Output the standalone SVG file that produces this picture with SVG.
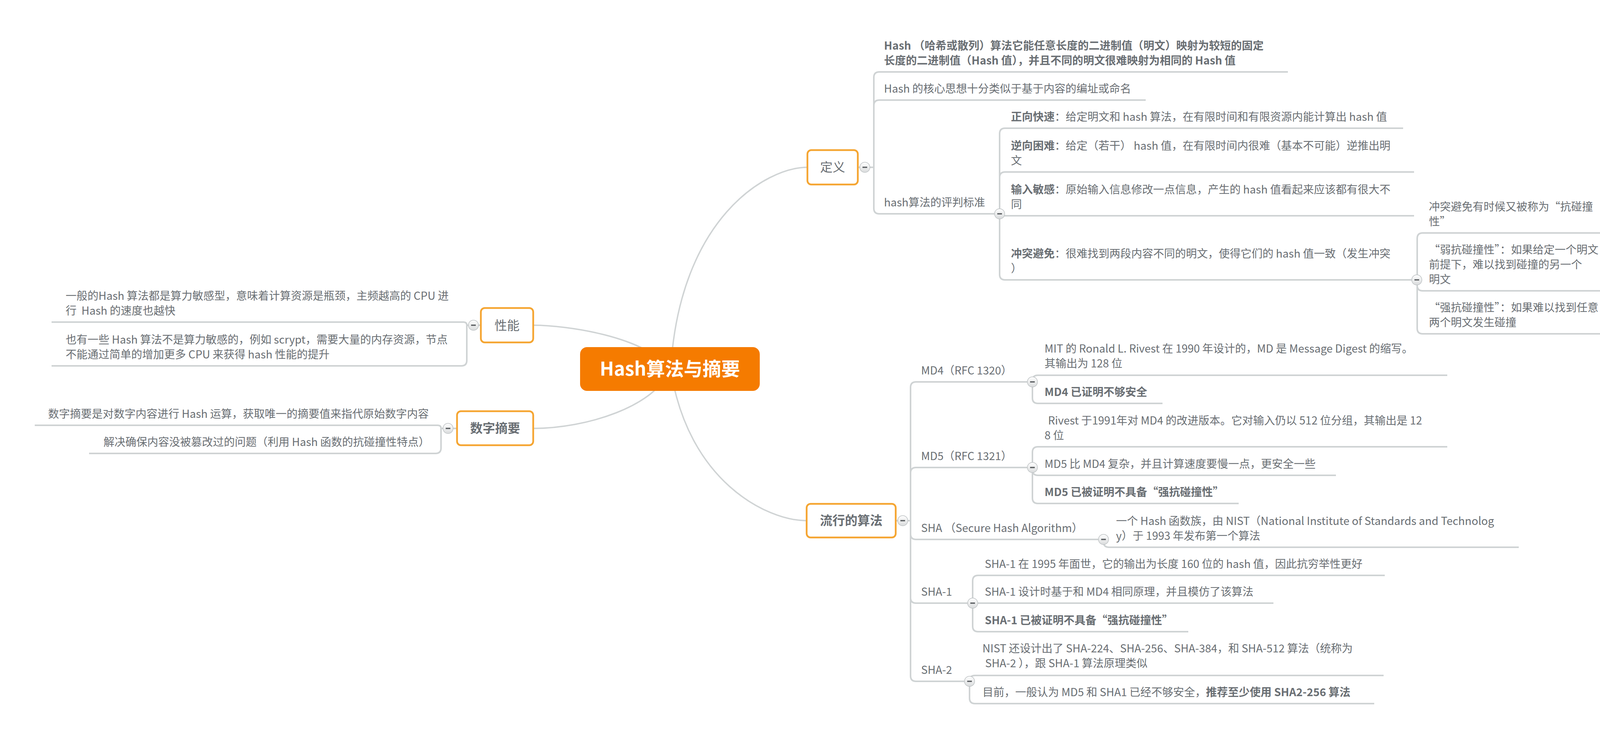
<svg xmlns="http://www.w3.org/2000/svg" width="4756" height="1888" viewBox="0 0 4756 1888">
<style>
.t{font-family:"Noto Sans CJK SC","Microsoft YaHei","Liberation Sans",sans-serif;font-size:28px;fill:#696E73}
.b{font-weight:bold}
.m{font-size:32px}
.c{font-size:48px;font-weight:bold;fill:#FFFFFF}
.ln{fill:none;stroke:#CFD3D4;stroke-width:4;stroke-linecap:butt}
.cv{fill:none;stroke:#CFD3D4;stroke-width:3.5}
.box{fill:#FFFFFF;stroke:#F5A531;stroke-width:4.5}
</style>
<defs>
<linearGradient id="bg" x1="0" y1="0" x2="0" y2="1">
<stop offset="0" stop-color="#FFFFFF"/>
<stop offset="1" stop-color="#DADCDD"/>
</linearGradient>
<g id="btn">
<circle cx="0" cy="0" r="13" fill="url(#bg)" stroke="#BFC3C5" stroke-width="1.5"/>
<rect x="-6" y="-1.6" width="12" height="3.2" fill="#55595C"/>
</g>
</defs>
<rect x="0" y="0" width="4756" height="1888" fill="#FFFFFF"/>

<g id="connectors">
<path class="cv" d="M1717,944 C1740,560 1960,428 2067,428"/>
<path class="cv" d="M1717,944 C1760,1229 1961,1332 2065,1332"/>
<path class="cv" d="M1715,944 C1650,860 1450,832 1365,832"/>
<path class="cv" d="M1715,944 C1680,1040 1500,1096 1365,1096"/>

<path class="ln" d="M2196,428 H2237"/>
<path class="ln" d="M2237,428 V198 Q2237,184 2251,184 H3297"/>
<path class="ln" d="M2237,428 V270 Q2237,256 2251,256 H2933"/>
<path class="ln" d="M2237,428 V533 Q2237,547 2251,547 H2559"/>

<path class="ln" d="M2559,547 V342 Q2559,328 2573,328 H3592"/>
<path class="ln" d="M2559,547 V454 Q2559,440 2573,440 H3620"/>
<path class="ln" d="M2559,547 Q2559,552 2564,552 H3620"/>
<path class="ln" d="M2559,547 V702 Q2559,716 2573,716 H3628"/>

<path class="ln" d="M3628,716 V610 Q3628,596 3642,596 H4163"/>
<path class="ln" d="M3628,716 V730 Q3628,744 3642,744 H4584"/>
<path class="ln" d="M3628,716 V840 Q3628,854 3642,854 H4359"/>

<path class="ln" d="M2293,1332 H2331"/>
<path class="ln" d="M2331,1332 V991 Q2331,977 2345,977 H2643"/>
<path class="ln" d="M2331,1332 V1210 Q2331,1196 2345,1196 H2643"/>
<path class="ln" d="M2331,1332 V1366 Q2331,1380 2345,1380 H2825"/>
<path class="ln" d="M2331,1332 V1529 Q2331,1543 2345,1543 H2490"/>
<path class="ln" d="M2331,1332 V1729 Q2331,1743 2345,1743 H2482"/>

<path class="ln" d="M2643,977 V974 Q2643,960 2657,960 H3705"/>
<path class="ln" d="M2643,977 V1018 Q2643,1032 2657,1032 H2976"/>

<path class="ln" d="M2643,1196 V1157 Q2643,1143 2657,1143 H3705"/>
<path class="ln" d="M2643,1196 V1202 Q2643,1216 2657,1216 H3420"/>
<path class="ln" d="M2643,1196 V1274 Q2643,1288 2657,1288 H3171"/>

<path class="ln" d="M2825,1380 V1386 Q2825,1400 2839,1400 H3888"/>

<path class="ln" d="M2490,1543 V1486 Q2490,1472 2504,1472 H3545"/>
<path class="ln" d="M2490,1543 H3260"/>
<path class="ln" d="M2490,1543 V1602 Q2490,1616 2504,1616 H3042"/>

<path class="ln" d="M2482,1743 V1742 Q2482,1728 2496,1728 H3542"/>
<path class="ln" d="M2482,1743 V1786 Q2482,1800 2496,1800 H3518"/>

<path class="ln" d="M1231,832 H1195"/>
<path class="ln" d="M1195,832 Q1195,824 1187,824 H132"/>
<path class="ln" d="M1195,832 V922 Q1195,936 1181,936 H132"/>

<path class="ln" d="M1170,1096 H1129"/>
<path class="ln" d="M1129,1096 Q1129,1088 1121,1088 H89"/>
<path class="ln" d="M1129,1096 V1146 Q1129,1160 1115,1160 H228"/>
</g>

<g id="central">
<rect x="1485" y="888" width="460" height="112" rx="18" fill="#F57B00"/>
<text class="t c" x="1715" y="961" text-anchor="middle">Hash算法与摘要</text>
</g>

<g id="n-dingyi">
<rect class="box" x="2067" y="384" width="129" height="88" rx="10"/>
<text class="t m" x="2131.5" y="439" text-anchor="middle">定义</text>
<use href="#btn" transform="translate(2214,428)"/>
</g>
<g id="n-def1">
<text class="t b" x="2263" y="127">Hash （哈希或散列）算法它能任意长度的二进制值（明文）映射为较短的固定</text>
<text class="t b" x="2263" y="165">长度的二进制值（Hash 值），并且不同的明文很难映射为相同的 Hash 值</text>
</g>
<g id="n-def2">
<text class="t" x="2263" y="237">Hash 的核心思想十分类似于基于内容的编址或命名</text>
</g>
<g id="n-criteria">
<text class="t" x="2263" y="528">hash算法的评判标准</text>
<use href="#btn" transform="translate(2559,547)"/>
</g>
<g id="n-c1">
<text class="t" x="2588" y="309"><tspan class="b">正向快速</tspan>：给定明文和 hash 算法，在有限时间和有限资源内能计算出 hash 值</text>
</g>
<g id="n-c2">
<text class="t" x="2588" y="383"><tspan class="b">逆向困难</tspan>：给定（若干） hash 值，在有限时间内很难（基本不可能）逆推出明</text>
<text class="t" x="2588" y="421">文</text>
</g>
<g id="n-c3">
<text class="t" x="2588" y="495"><tspan class="b">输入敏感</tspan>：原始输入信息修改一点信息，产生的 hash 值看起来应该都有很大不</text>
<text class="t" x="2588" y="533">同</text>
</g>
<g id="n-c4">
<text class="t" x="2588" y="659"><tspan class="b">冲突避免</tspan>：很难找到两段内容不同的明文，使得它们的 hash 值一致（发生冲突</text>
<text class="t" x="2588" y="697">）</text>
<use href="#btn" transform="translate(3627,716)"/>
</g>
<g id="n-c4a">
<text class="t" x="3658" y="539">冲突避免有时候又被称为“抗碰撞</text>
<text class="t" x="3658" y="577">性”</text>
</g>
<g id="n-c4b">
<text class="t" x="3658" y="649">“弱抗碰撞性”：如果给定一个明文</text>
<text class="t" x="3658" y="687">前提下，难以找到碰撞的另一个</text>
<text class="t" x="3658" y="725">明文</text>
</g>
<g id="n-c4c">
<text class="t" x="3658" y="797">“强抗碰撞性”：如果难以找到任意</text>
<text class="t" x="3658" y="835">两个明文发生碰撞</text>
</g>

<g id="n-algos">
<rect class="box" x="2065" y="1289" width="228" height="86" rx="10"/>
<text class="t m b" x="2179" y="1343" text-anchor="middle">流行的算法</text>
<use href="#btn" transform="translate(2311,1332)"/>
</g>
<g id="n-md4">
<text class="t" x="2358" y="958">MD4（RFC 1320）</text>
<use href="#btn" transform="translate(2643,977)"/>
</g>
<g id="n-md4a">
<text class="t" x="2674" y="902">MIT 的 Ronald L. Rivest 在 1990 年设计的，MD 是 Message Digest 的缩写。</text>
<text class="t" x="2674" y="940">其输出为 128 位</text>
</g>
<g id="n-md4b">
<text class="t b" x="2674" y="1013">MD4 已证明不够安全</text>
</g>
<g id="n-md5">
<text class="t" x="2358" y="1177">MD5（RFC 1321）</text>
<use href="#btn" transform="translate(2643,1196)"/>
</g>
<g id="n-md5a">
<text class="t" x="2683" y="1086">Rivest 于1991年对 MD4 的改进版本。它对输入仍以 512 位分组，其输出是 12</text>
<text class="t" x="2674" y="1124">8 位</text>
</g>
<g id="n-md5b">
<text class="t" x="2674" y="1197">MD5 比 MD4 复杂，并且计算速度要慢一点，更安全一些</text>
</g>
<g id="n-md5c">
<text class="t b" x="2674" y="1269">MD5 已被证明不具备“强抗碰撞性”</text>
</g>
<g id="n-sha">
<text class="t" x="2358" y="1361">SHA （Secure Hash Algorithm）</text>
<use href="#btn" transform="translate(2825,1380)"/>
</g>
<g id="n-shaa">
<text class="t" x="2857" y="1343">一个 Hash 函数族，由 NIST（National Institute of Standards and Technolog</text>
<text class="t" x="2857" y="1381">y）于 1993 年发布第一个算法</text>
</g>
<g id="n-sha1">
<text class="t" x="2358" y="1524">SHA-1</text>
<use href="#btn" transform="translate(2490,1543)"/>
</g>
<g id="n-sha1a">
<text class="t" x="2521" y="1453">SHA-1 在 1995 年面世，它的输出为长度 160 位的 hash 值，因此抗穷举性更好</text>
</g>
<g id="n-sha1b">
<text class="t" x="2521" y="1524">SHA-1 设计时基于和 MD4 相同原理，并且模仿了该算法</text>
</g>
<g id="n-sha1c">
<text class="t b" x="2521" y="1597">SHA-1 已被证明不具备“强抗碰撞性”</text>
</g>
<g id="n-sha2">
<text class="t" x="2358" y="1724">SHA-2</text>
<use href="#btn" transform="translate(2482,1743)"/>
</g>
<g id="n-sha2a">
<text class="t" x="2515" y="1669">NIST 还设计出了 SHA-224、SHA-256、SHA-384，和 SHA-512 算法（统称为</text>
<text class="t" x="2522" y="1707">SHA-2 ），跟 SHA-1 算法原理类似</text>
</g>
<g id="n-sha2b">
<text class="t" x="2515" y="1781">目前，一般认为 MD5 和 SHA1 已经不够安全，<tspan class="b">推荐至少使用 SHA2-256 算法</tspan></text>
</g>

<g id="n-perf">
<rect class="box" x="1231" y="788" width="134" height="88" rx="10"/>
<text class="t m" x="1298" y="844" text-anchor="middle">性能</text>
<use href="#btn" transform="translate(1212,832)"/>
</g>
<g id="n-perf1">
<text class="t" x="168" y="767">一般的Hash 算法都是算力敏感型，意味着计算资源是瓶颈，主频越高的 CPU 进</text>
<text class="t" x="168" y="805">行 &#160;Hash 的速度也越快</text>
</g>
<g id="n-perf2">
<text class="t" x="168" y="879">也有一些 Hash 算法不是算力敏感的，例如 scrypt，需要大量的内存资源，节点</text>
<text class="t" x="168" y="917">不能通过简单的增加更多 CPU 来获得 hash 性能的提升</text>
</g>

<g id="n-digest">
<rect class="box" x="1170" y="1052" width="195" height="87" rx="10"/>
<text class="t m b" x="1267.5" y="1107" text-anchor="middle">数字摘要</text>
<use href="#btn" transform="translate(1147,1096)"/>
</g>
<g id="n-digest1">
<text class="t" x="123" y="1069">数字摘要是对数字内容进行 Hash 运算，获取唯一的摘要值来指代原始数字内容</text>
</g>
<g id="n-digest2">
<text class="t" x="265" y="1141">解决确保内容没被篡改过的问题（利用 Hash 函数的抗碰撞性特点）</text>
</g>
</svg>
